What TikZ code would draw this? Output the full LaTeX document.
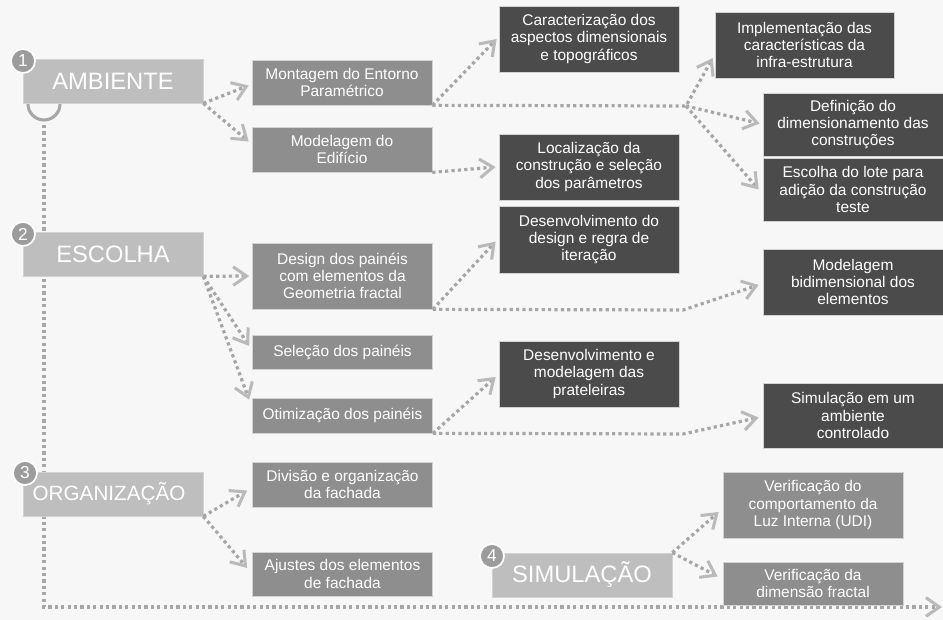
\documentclass[tikz,border=0pt]{standalone}
\usepackage{fontspec}
\setmainfont{Liberation Sans}
\usetikzlibrary{arrows.meta}
\definecolor{bgc}{HTML}{F7F7F7}
\definecolor{catc}{HTML}{BEBEBE}
\definecolor{midc}{HTML}{8E8E8E}
\definecolor{darkc}{HTML}{4B4B4B}
\definecolor{numc}{HTML}{9C9C9C}
\definecolor{linec}{HTML}{A6A6A6}
\definecolor{tipc}{HTML}{BABABA}
\definecolor{edgec}{HTML}{D2D2D2}
\begin{document}
\begin{tikzpicture}[x=0.75pt,y=-0.75pt,
  box/.style={rectangle, draw=edgec, line width=0.5pt, text=white, inner sep=0pt, align=center,
    minimum width=135pt, font=\fontsize{11.6}{12.8}\selectfont},
  cat/.style={box, fill=catc, minimum height=33pt, font=\fontsize{17.8}{20}\selectfont},
  mid/.style={box, fill=midc},
  dark/.style={box, fill=darkc},
  num/.style={circle, fill=numc, draw=white, line width=1.3pt, text=white, inner sep=0pt,
    minimum size=18pt, font=\fontsize{13}{13}\selectfont},
  conn/.style={draw=linec, line width=2.4pt, dash pattern=on 2.4pt off 2.4pt,
    -{Straight Barb[length=10pt,width=14pt,line width=2.3pt,color=tipc]}},
  half/.style={draw=linec, line width=2.3pt}
]
\fill[bgc] (0,0) rectangle (943,620);
\useasboundingbox (0,0) rectangle (943,620);

% coordinates for the long line
\coordinate (arcL) at (28,104);
\coordinate (vstart) at (44,125);
\coordinate (vcorner) at (44,607);
\coordinate (vend) at (942,607);
\coordinate (b1) at (686,106);
\coordinate (b2) at (683,310);
\coordinate (b3) at (683,434);

% long connector (behind boxes)
\draw[half] (arcL) arc[start angle=180, end angle=0, radius=16];
\draw[conn] (vstart) -- (vcorner) -- (vend);

% category boxes
\node[cat] (amb) at (113,81) {AMBIENTE};
\node[cat] (esc) at (113,254) {ESCOLHA};
\node[cat, font=\fontsize{15.5}{18}\selectfont] (org) at (113,494) {\kern-6pt ORGANIZAÇÃO};
\node[cat] (sim) at (582,575) {SIMULAÇÃO};

% medium boxes
\node[mid, minimum height=33.75pt] (mont) at (342,82.5) {Montagem do Entorno\\Paramétrico};
\node[mid, minimum height=33.75pt] (mod) at (342,149.5) {Modelagem do\\Edifício};
\node[mid, minimum height=49.5pt] (design) at (342.5,276) {Design dos painéis\\com elementos da\\Geometria fractal};
\node[mid, minimum height=25.5pt] (sel) at (342.5,352) {Seleção dos painéis};
\node[mid, minimum height=26.25pt] (oti) at (342.5,415.5) {Otimização dos painéis};
\node[mid, minimum height=33.75pt] (div) at (342.5,484.5) {Divisão e organização\\da fachada};
\node[mid, minimum height=33pt] (aju) at (342.5,574) {Ajustes dos elementos\\de fachada};
\node[mid, minimum height=49.5pt] (vudi) at (813,505) {Verificação do\\comportamento da\\Luz Interna (UDI)};
\node[mid, minimum height=32.25pt] (vfrac) at (813,583.5) {Verificação da\\dimensão fractal};

% dark boxes
\node[dark, minimum height=49.5pt] (car) at (589,39) {Caracterização dos\\aspectos dimensionais\\e topográficos};
\node[dark, minimum height=49.5pt] (loc) at (589,167) {Localização da\\construção e seleção\\dos parâmetros};
\node[dark, minimum height=50.25pt] (desd) at (589,239.5) {Desenvolvimento do\\design e regra de\\iteração};
\node[dark, minimum height=49.5pt] (desp) at (589,374) {Desenvolvimento e\\modelagem das\\prateleiras};
\node[dark, minimum height=49.5pt, minimum width=134.25pt] (imp) at (804.5,45) {Implementação das\\características da\\infra-estrutura};
\node[dark, minimum height=47.25pt] (def) at (853,124.5) {Definição do\\dimensionamento das\\construções};
\node[dark, minimum height=47.25pt] (lote) at (853,189.5) {Escolha do lote para\\adição da construção\\teste};
\node[dark, minimum height=49.5pt] (mbi) at (853,282) {Modelagem\\bidimensional dos\\elementos};
\node[dark, minimum height=48.75pt] (simc) at (853,415.5) {Simulação em um\\ambiente\\controlado};

% number circles
\node[num] (n1) at (23,61) {1};
\node[num] (n2) at (23,234) {2};
\node[num] (n3) at (25,473) {3};
\node[num] (n4) at (492,556) {4};

% connectors
\draw[conn] (amb.south east) -- ([shift={(-3,3)}]mont.west);
\draw[conn] (amb.south east) -- ([shift={(-3,-8)}]mod.west);
\draw[conn] (mont.south east) -- ([shift={(-2,0)}]car.west);
\draw[conn] (mont.south east) -- (b1) -- ([shift={(-2,13)}]imp.west);
\draw[conn] (b1) -- ([shift={(-3,-1)}]def.west);
\draw[conn] (b1) -- ([shift={(-4,0)}]lote.west);
\draw[conn] (mod.south east) -- ([shift={(-3,0)}]loc.west);
\draw[conn] (esc.south east) -- ([shift={(-3,0)}]design.west);
\draw[conn] (esc.south east) -- ([shift={(-3,-6)}]sel.west);
\draw[conn] (esc.south east) -- ([shift={(-3,2)}]oti.north west);
\draw[conn] (design.south east) -- ([shift={(-3,2)}]desd.west);
\draw[conn] (design.south east) -- (b2) -- ([shift={(-4,3)}]mbi.west);
\draw[conn] (oti.south east) -- ([shift={(-3,3)}]desp.west);
\draw[conn] (oti.south east) -- (b3) -- ([shift={(-4,2)}]simc.west);
\draw[conn] (org.south east) -- ([shift={(-5,6)}]div.west);
\draw[conn] (org.south east) -- ([shift={(-5,-6)}]aju.west);
\draw[conn] (sim.north east) -- ([shift={(-4,7)}]vudi.west);
\draw[conn] (sim.north east) -- ([shift={(-5,-7)}]vfrac.west);
\end{tikzpicture}
\end{document}
